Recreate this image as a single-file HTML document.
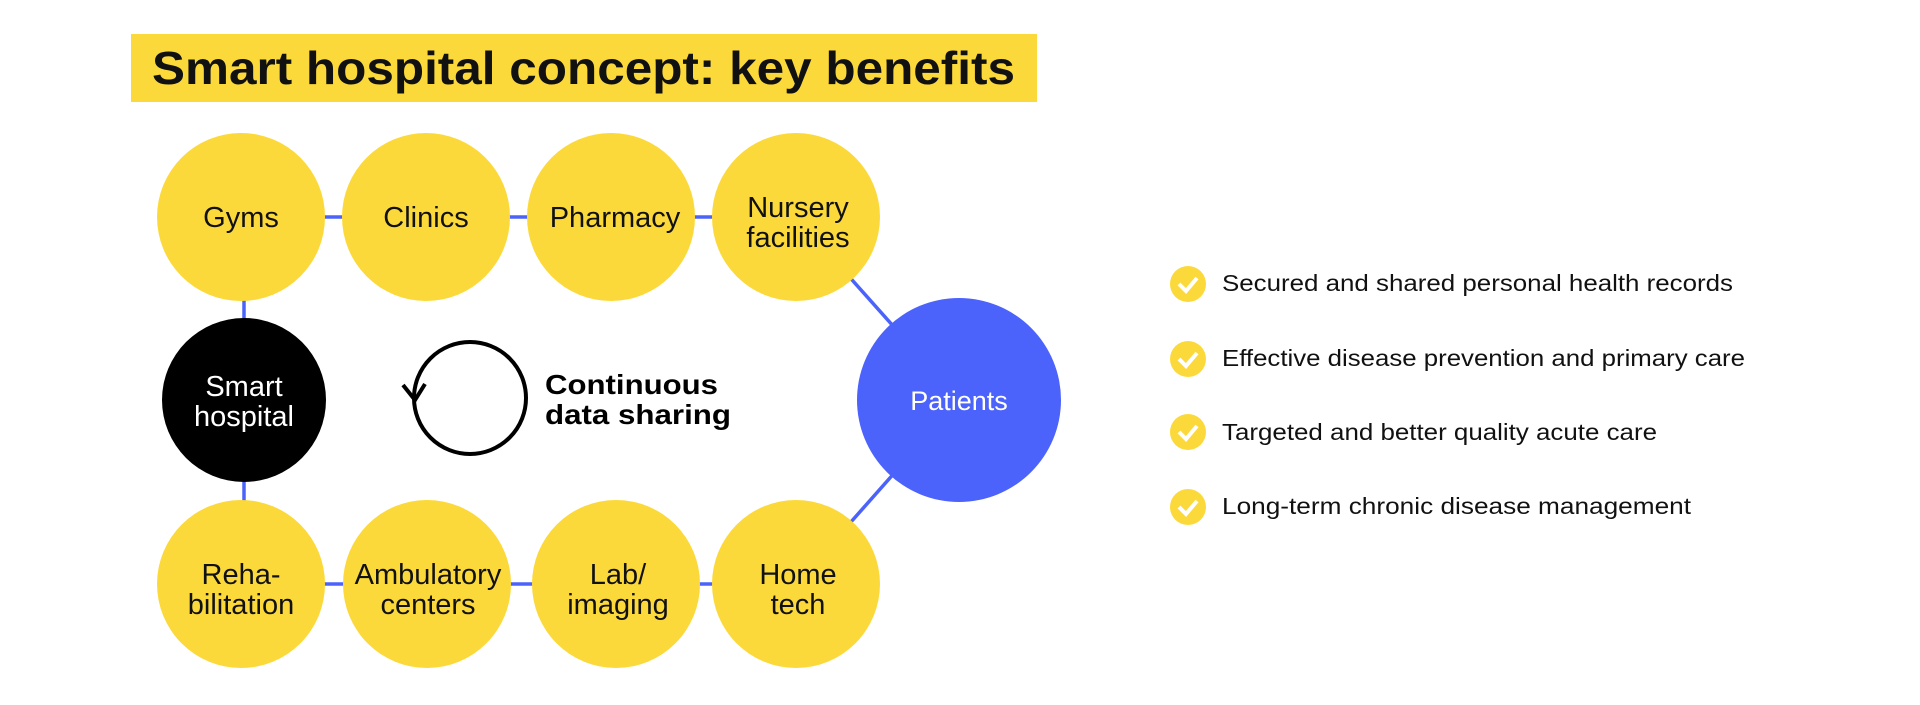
<!DOCTYPE html>
<html><head><style>
body{margin:0;background:#fff;}
svg text{font-family:"Liberation Sans",sans-serif;}
</style></head><body>
<svg width="1920" height="700" viewBox="0 0 1920 700" xmlns="http://www.w3.org/2000/svg">
<rect x="131" y="34" width="906" height="68" fill="#fcd93a"/>
<text x="152" y="84" font-size="46" font-weight="bold" fill="#111" textLength="863" lengthAdjust="spacingAndGlyphs">Smart hospital concept: key benefits</text>
<g stroke="#4b63fb" stroke-width="3.5">
<line x1="241" y1="217" x2="796" y2="217"/>
<line x1="241" y1="584" x2="796" y2="584"/>
<line x1="244" y1="217" x2="244" y2="584"/>
<line x1="796" y1="217" x2="959" y2="400"/>
<line x1="796" y1="584" x2="959" y2="400"/>
</g>
<g fill="#fcd93a">
<circle cx="241" cy="217" r="84"/><circle cx="426" cy="217" r="84"/><circle cx="611" cy="217" r="84"/><circle cx="796" cy="217" r="84"/>
<circle cx="241" cy="584" r="84"/><circle cx="427" cy="584" r="84"/><circle cx="616" cy="584" r="84"/><circle cx="796" cy="584" r="84"/>
</g>
<circle cx="244" cy="400" r="82" fill="#000"/>
<circle cx="959" cy="400" r="102" fill="#4b63fb"/>
<g font-size="29" fill="#111" text-anchor="middle">
<text x="241" y="227">Gyms</text>
<text x="426" y="227">Clinics</text>
<text x="615" y="227">Pharmacy</text>
<text x="798" y="217">Nursery</text><text x="798" y="247">facilities</text>
<text x="241" y="584">Reha-</text><text x="241" y="614">bilitation</text>
<text x="428" y="584">Ambulatory</text><text x="428" y="614">centers</text>
<text x="618" y="584">Lab/</text><text x="618" y="614">imaging</text>
<text x="798" y="584">Home</text><text x="798" y="614">tech</text>
<text x="244" y="396" fill="#fff">Smart</text><text x="244" y="426" fill="#fff">hospital</text>
<text x="959" y="410" fill="#fff" font-size="27">Patients</text>
</g>
<circle cx="470" cy="398" r="56" fill="none" stroke="#000" stroke-width="4"/>
<polyline points="403,385 415,400 425,384" fill="none" stroke="#000" stroke-width="4"/>
<text x="545" y="394" font-size="28" font-weight="bold" fill="#000" textLength="173" lengthAdjust="spacingAndGlyphs">Continuous</text>
<text x="545" y="424" font-size="28" font-weight="bold" fill="#000" textLength="186" lengthAdjust="spacingAndGlyphs">data sharing</text>
<g>
<circle cx="1188" cy="284" r="18" fill="#fcd93a"/><polyline points="1179,284 1186,291 1197,278" fill="none" stroke="#fff" stroke-width="4"/>
<circle cx="1188" cy="359" r="18" fill="#fcd93a"/><polyline points="1179,359 1186,366 1197,353" fill="none" stroke="#fff" stroke-width="4"/>
<circle cx="1188" cy="432" r="18" fill="#fcd93a"/><polyline points="1179,432 1186,439 1197,426" fill="none" stroke="#fff" stroke-width="4"/>
<circle cx="1188" cy="507" r="18" fill="#fcd93a"/><polyline points="1179,507 1186,514 1197,501" fill="none" stroke="#fff" stroke-width="4"/>
</g>
<g font-size="23" fill="#111">
<text x="1222" y="291" textLength="511" lengthAdjust="spacingAndGlyphs">Secured and shared personal health records</text>
<text x="1222" y="366" textLength="523" lengthAdjust="spacingAndGlyphs">Effective disease prevention and primary care</text>
<text x="1222" y="440" textLength="435" lengthAdjust="spacingAndGlyphs">Targeted and better quality acute care</text>
<text x="1222" y="514" textLength="469" lengthAdjust="spacingAndGlyphs">Long-term chronic disease management</text>
</g>
</svg>
</body></html>
